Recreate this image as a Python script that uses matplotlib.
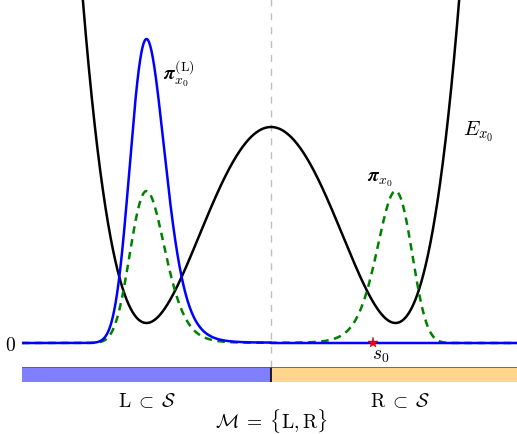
import numpy as np
import matplotlib
matplotlib.use("Agg")
from matplotlib import pyplot as plt

plt.rcParams["mathtext.fontset"] = "cm"
plt.rcParams["font.family"] = "serif"
plt.rcParams["font.serif"] = ["DejaVu Serif"]

# values (x in well units, y in picture units)
well_pos = [-1.0, 1.0]        # minima of the double well
barrier_top = 2.16            # E at x = 0
well_bottom = 0.20            # E at the minima
beta_barrier = 6.5            # inverse temperature times barrier height
pi_peak = 1.52                # height of each mode of pi
piL_peak = 3.04               # height of the conditioned density on L
s0 = 0.82                     # position of the sample s0
sets = ["L", "R"]
set_colors = ["blue", "orange"]
set_alpha = [0.5, 0.45]

x = np.linspace(-2.0, 2.0, 2001)
shape = (x**2 - well_pos[1]**2)**2
E = well_bottom + (barrier_top - well_bottom) * shape
pi = pi_peak * np.exp(-beta_barrier * shape)
piL = np.where(x < 0, piL_peak * np.exp(-beta_barrier * shape), 0.0)

fig = plt.figure(figsize=(5.17, 4.35), dpi=100)
W, H = 517.0, 435.0
ax = fig.add_axes([22 / W, (H - 368) / H, 1 - 22 / W, 368 / H])

ax.axvline(0, color="0.75", lw=1, ls=(0, (5, 5)), zorder=0)
ax.plot(x, E, color="black", lw=1.8)
ax.plot(x, pi, color="green", lw=1.8, ls=(0, (3, 2.2)))
ax.plot(x, piL, color="blue", lw=1.8)
ax.plot([s0], [0], marker="*", color="red", ms=8, markeredgewidth=0.3,
        markeredgecolor="darkred", zorder=5)

ax.set_xlim(-2.0, 2.0 * 246 / 249)
ax.set_ylim(-0.24, 3.44)
for s in ax.spines.values():
    s.set_visible(False)
ax.set_xticks([])
ax.set_yticks([0])
ax.set_yticklabels(["$0$"], fontsize=14)
ax.tick_params(axis="y", length=0, pad=4)

ax.text(1.54, 2.08, r"$E_{x_0}$", fontsize=15)
ax.text(-0.87, 2.64, r"$\boldsymbol{\pi}_{x_0}^{(\mathrm{L})}$", fontsize=14)
ax.text(0.77, 1.63, r"$\boldsymbol{\pi}_{x_0}$", fontsize=14)
ax.text(0.81, -0.03, r"$s_0$", fontsize=14, va="top")

bx = fig.add_axes([22 / W, (H - 383) / H, 1 - 22 / W, 15 / H])
bx.barh([0], [2.0], left=-2.0, height=1, color=set_colors[0], alpha=set_alpha[0])
bx.barh([0], [2.0], left=0.0, height=1, color=set_colors[1], alpha=set_alpha[1])
bx.axvline(0, color="black", lw=1.2)
bx.axhline(0.5, color="0.35", lw=1.2)
bx.set_xlim(ax.get_xlim())
bx.set_ylim(-0.5, 0.5)
bx.axis("off")

for cx, name in zip([147, 400], sets):
    fig.text(cx / W, (H - 402) / H, r"$\mathrm{%s}\;\subset\;\mathcal{S}$" % name,
             fontsize=14, ha="center", va="center")
fig.text(271 / W, (H - 421) / H, r"$\mathcal{M}\;=\;\{\mathrm{L}, \mathrm{R}\}$",
         fontsize=14, ha="center", va="center")

fig.savefig("out.png", dpi=100)
